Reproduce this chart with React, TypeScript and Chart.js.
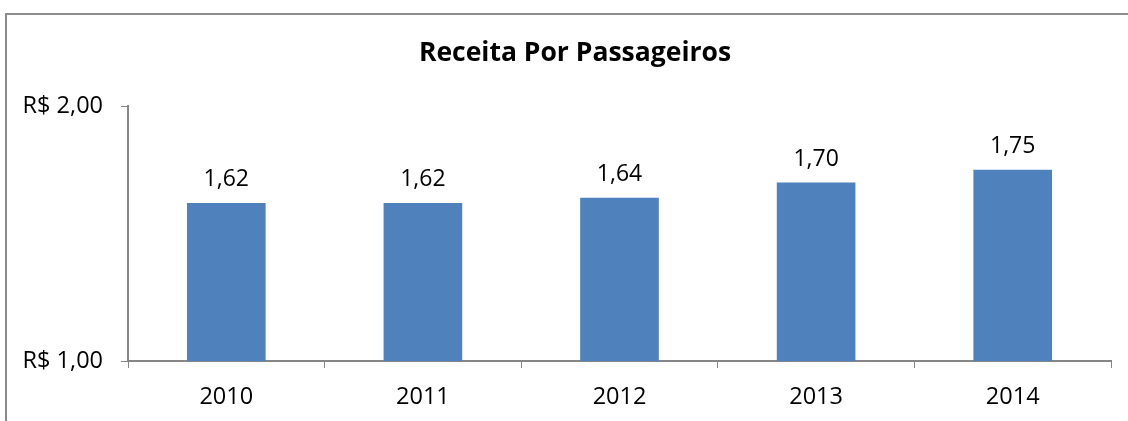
import React, { useEffect, useRef } from "react";
import { Chart, registerables } from "chart.js";

Chart.register(...registerables);

const categories = ["2010", "2011", "2012", "2013", "2014"];
const values = [1.62, 1.62, 1.64, 1.7, 1.75];
const yTicks = [1, 2];
const titleText = "Receita Por Passageiros";

const FONT = "'Open Sans', sans-serif";
const fmt = (v: number) => v.toFixed(2).replace(".", ",");

const labelPlugin = {
  id: "barLabels",
  afterDatasetsDraw(chart: any) {
    const ctx = chart.ctx;
    const meta = chart.getDatasetMeta(0);
    ctx.save();
    ctx.font = `23px ${FONT}`;
    ctx.fillStyle = "#000";
    ctx.textAlign = "center";
    ctx.textBaseline = "alphabetic";
    meta.data.forEach((bar: any, i: number) => {
      ctx.fillText(fmt(values[i]), bar.x, bar.y - 17);
    });
    // title, centred on the whole chart box
    ctx.font = `bold 26.5px ${FONT}`;
    ctx.textBaseline = "middle";
    ctx.fillText(titleText, chart.width / 2, 38);
    ctx.restore();
  },
};

export default function App() {
  const ref = useRef<HTMLCanvasElement>(null);
  useEffect(() => {
    if (!ref.current) return;
    const chart = new Chart(ref.current, {
      type: "bar",
      data: {
        labels: categories,
        datasets: [
          {
            data: values,
            backgroundColor: "#4F81BD",
            categoryPercentage: 1,
            barPercentage: 0.4,
          },
        ],
      },
      options: {
        animation: false,
        responsive: false,
        maintainAspectRatio: false,
        layout: { padding: { left: 0, right: 32, top: 91, bottom: 0 } },
        plugins: {
          legend: { display: false },
          tooltip: { enabled: false },
          title: { display: false },
        },
        scales: {
          x: {
            grid: {
              display: true,
              drawOnChartArea: false,
              drawTicks: true,
              tickLength: 7,
              color: "#868686",
              offset: true,
            },
            border: { display: true, color: "#868686", width: 2 },
            ticks: {
              color: "#000",
              font: { family: FONT, size: 23.5 },
              padding: 15,
            },
            afterFit: (s: any) => {
              s.height = 74;
            },
          },
          y: {
            min: 1,
            max: 2,
            afterBuildTicks: (s: any) => {
              s.ticks = yTicks.map((v) => ({ value: v }));
            },
            grid: {
              display: true,
              drawOnChartArea: false,
              drawTicks: true,
              tickLength: 7,
              color: "#868686",
            },
            border: { display: true, color: "#868686", width: 2 },
            ticks: {
              color: "#000",
              font: { family: FONT, size: 23.5 },
              padding: 18,
              callback: (v: any) => "R$ " + fmt(Number(v)),
            },
            afterFit: (s: any) => {
              s.width = 121;
            },
          },
        },
      },
      plugins: [labelPlugin],
    });
    return () => chart.destroy();
  }, []);

  return (
    <div
      style={{
        position: "fixed",
        left: 0,
        top: 0,
        width: 1128,
        height: 421,
        overflow: "hidden",
        background: "#fff",
      }}
    >
      <div
        style={{
          position: "absolute",
          left: 5,
          top: 13,
          width: 1136,
          height: 420,
          borderLeft: "2px solid #8c8c8c",
          borderTop: "2px solid #8c8c8c",
        }}
      >
        <canvas ref={ref} width={1136} height={420} style={{ display: "block" }} />
      </div>
    </div>
  );
}
